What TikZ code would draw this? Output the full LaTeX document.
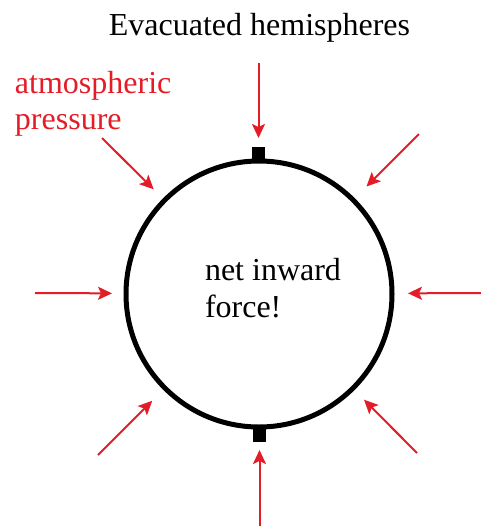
\documentclass[tikz,border=0pt]{standalone}
\usepackage{fontspec}
\setmainfont{Liberation Serif}
\usetikzlibrary{arrows.meta}
\definecolor{pres}{RGB}{228,28,40}
\tikzset{
  lbl/.style={inner sep=0pt, outer sep=0pt, anchor=base west, font=\fontsize{32}{38}\selectfont},
  redlbl/.style={lbl},
  push/.style={draw=pres, line width=2pt, -{Stealth[length=14pt,width=13pt,inset=3pt]}},
  tab/.style={fill=black, inner sep=0pt, outer sep=0pt, minimum width=13pt},
}
\begin{document}
\begin{tikzpicture}[x=1pt,y=-1pt]
\useasboundingbox (0,0) rectangle (481,528);
% title
\node[lbl, anchor=base] (title) at (259.5,35) {Evacuated hemispheres};
% sphere
\node[draw=black, line width=5pt, circle, minimum size=266pt, inner sep=0pt] (ball) at (259,294) {};
\node[tab, minimum height=15pt, anchor=north] (toptab) at (258.5,147) {};
\node[tab, minimum height=15pt, anchor=south] (bottab) at (259.5,442) {};
% labels
\node[redlbl] (atm1) at (15,93) {\textcolor{pres}{atmospheric}};
\node[redlbl] (atm2) at (15,129) {\textcolor{pres}{pressure}};
\node[lbl] (net1) at (205,280) {net inward};
\node[lbl] (net2) at (205,317) {force!};
% arrow tails
\coordinate (tN) at (258.5,63);
\coordinate (tS) at (259.5,526);
\coordinate (tW) at (35,293);
\coordinate (tE) at (481,293);
\coordinate (tNW) at (102,138);
\coordinate (tNE) at (419,134);
\coordinate (tSE) at (417,453);
\coordinate (tSW) at (98,455);
% arrows
\draw[push, shorten >=9pt] (tN) -- (toptab);
\draw[push, shorten >=8pt] (tS) -- (bottab);
\draw[push, shorten >=11.5pt] (tW) -- (ball);
\draw[push, shorten >=13.5pt] (tE) -- (ball);
\draw[push, shorten >=13pt] (tNW) -- (ball);
\draw[push, shorten >=16.5pt] (tNE) -- (ball);
\draw[push, shorten >=13.5pt] (tSE) -- (ball);
\draw[push, shorten >=15.5pt] (tSW) -- (ball);
\end{tikzpicture}
\end{document}
